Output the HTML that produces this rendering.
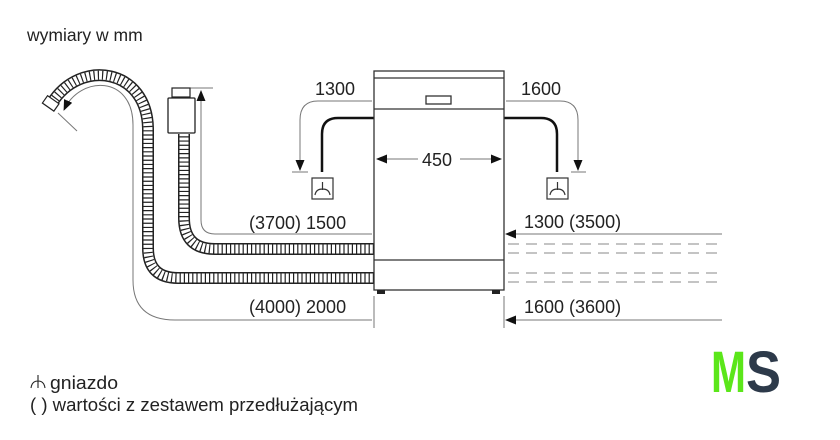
<!DOCTYPE html>
<html><head><style>
body{margin:0;background:#fff;}
svg{display:block;}
text{font-family:"Liberation Sans",sans-serif;fill:#222;}
</style></head><body>
<svg width="840" height="440" viewBox="0 0 840 440" xmlns="http://www.w3.org/2000/svg">
<defs>
<marker id="a" markerWidth="11" markerHeight="9" refX="10" refY="4.5" orient="auto" markerUnits="userSpaceOnUse"><path d="M0,0 L11,4.5 L0,9 Z" fill="#111"/></marker>
</defs>
<rect width="840" height="440" fill="#fff"/>
<text x="27" y="41" font-size="17.5">wymiary w mm</text>

<g fill="none" stroke="#777" stroke-width="1">
<path d="M372,320 H175 Q133,320 133,280 V125 C133,75 80,75 64,110" marker-end="url(#a)"/>
<line x1="58" y1="113" x2="77" y2="131"/>
<path d="M372,234 H215 Q201,234 201,220 V91" marker-end="url(#a)"/>
<line x1="190" y1="88" x2="213" y2="88"/>
<path d="M372,101 H318 Q300,101 300,120 V170" marker-end="url(#a)"/>
<line x1="292" y1="172" x2="308" y2="172"/>
<path d="M506,101 H560 Q578,101 578,120 V170" marker-end="url(#a)"/>
<line x1="571" y1="172" x2="586" y2="172"/>
<line x1="722" y1="234" x2="506" y2="234" marker-end="url(#a)"/>
<line x1="722" y1="320" x2="506" y2="320" marker-end="url(#a)"/>
<line x1="374" y1="296" x2="374" y2="328"/>
<line x1="504" y1="296" x2="504" y2="328"/>
</g>
<g stroke="#888" stroke-width="1" stroke-dasharray="11,7">
<line x1="508" y1="244" x2="722" y2="244"/>
<line x1="508" y1="253" x2="722" y2="253"/>
<line x1="508" y1="273" x2="722" y2="273"/>
<line x1="508" y1="282" x2="722" y2="282"/>
</g>

<g fill="none">
<path d="M374,249 H215 Q184,249 184,218 V134" stroke="#222" stroke-width="12"/>
<path d="M374,249 H215 Q184,249 184,218 V134" stroke="#fff" stroke-width="9"/>
<path d="M374,249 H215 Q184,249 184,218 V134" stroke="#222" stroke-width="9" stroke-dasharray="1.2,3"/>
<path d="M374,278 H178 Q148,278 148,248 V130 C148,68 80,58 52,103" stroke="#222" stroke-width="12"/>
<path d="M374,278 H178 Q148,278 148,248 V130 C148,68 80,58 52,103" stroke="#fff" stroke-width="9"/>
<path d="M374,278 H178 Q148,278 148,248 V130 C148,68 80,58 52,103" stroke="#222" stroke-width="9" stroke-dasharray="1.2,3"/>
</g>
<rect x="44" y="99" width="14" height="9" transform="rotate(35 51 103)" fill="#fff" stroke="#222" stroke-width="1.2"/>
<rect x="168" y="98" width="27" height="35" rx="1" fill="#fff" stroke="#222" stroke-width="1.3"/>
<rect x="172" y="88" width="18" height="9" fill="#fff" stroke="#222" stroke-width="1.2"/>

<g fill="none" stroke="#111" stroke-width="2.5">
<path d="M374,118 H338 Q322,118 322,134 V172"/>
<path d="M504,118 H541 Q557,118 557,134 V172"/>
</g>
<g fill="#fff" stroke="#333" stroke-width="1.2">
<rect x="312" y="178" width="21" height="21"/>
<rect x="547" y="178" width="21" height="21"/>
<path d="M322.5,182 V190 M315,195 Q316,189 322.5,189 Q329,189 330,195" fill="none"/>
<path d="M557.5,182 V190 M550,195 Q551,189 557.5,189 Q564,189 565,195" fill="none"/>
</g>

<g fill="#fff" stroke="#333" stroke-width="1.3">
<rect x="374" y="71" width="130" height="219"/>
<line x1="374" y1="78" x2="504" y2="78"/>
<line x1="374" y1="109" x2="504" y2="109"/>
<line x1="374" y1="260" x2="504" y2="260"/>
<rect x="426" y="96" width="25" height="8"/>
</g>
<rect x="377" y="290" width="8" height="4" fill="#222"/>
<rect x="492" y="290" width="8" height="4" fill="#222"/>
<g stroke="#777" stroke-width="1">
<line x1="418" y1="159" x2="377" y2="159" marker-end="url(#a)"/>
<line x1="460" y1="159" x2="501" y2="159" marker-end="url(#a)"/>
</g>

<g font-size="18">
<text x="315" y="95">1300</text>
<text x="521" y="95">1600</text>
<text x="422" y="166">450</text>
<text x="249" y="229">(3700) 1500</text>
<text x="249" y="313">(4000) 2000</text>
<text x="524" y="228">1300 (3500)</text>
<text x="524" y="313">1600 (3600)</text>
</g>

<text x="50" y="389" font-size="18.5" textLength="68" lengthAdjust="spacingAndGlyphs">gniazdo</text>
<text x="30" y="411" font-size="18.5" textLength="328" lengthAdjust="spacingAndGlyphs">( ) wartości z zestawem przedłużającym</text>
<path d="M38,375 V388 M31,388 Q32,381 38,381 Q44,381 45,388" fill="none" stroke="#222" stroke-width="1.1"/>

<text x="711" y="392" font-size="58" font-weight="bold" style="fill:#5be61a" textLength="35" lengthAdjust="spacingAndGlyphs">M</text>
<text x="746" y="392" font-size="58" font-weight="bold" style="fill:#2d3a4a" textLength="35" lengthAdjust="spacingAndGlyphs">S</text>
</svg>
</body></html>
